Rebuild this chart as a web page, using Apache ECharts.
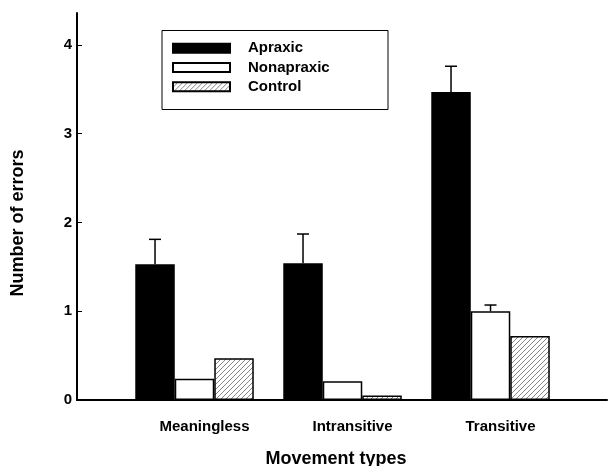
<!DOCTYPE html>
<html>
<head>
<meta charset="utf-8">
<script src="https://cdn.jsdelivr.net/npm/echarts@6/dist/echarts.min.js"></script>
<style>
html,body{margin:0;padding:0;background:#fff;}
#c{width:608px;height:466px;}
</style>
</head>
<body>
<div id="c"></div>
<script>
var categories = ['Meaningless', 'Intransitive', 'Transitive'];
var seriesNames = ['Apraxic', 'Nonapraxic', 'Control'];
var apraxic = [1.53, 1.54, 3.47];
var nonapraxic = [0.24, 0.21, 1.00];
var control = [0.47, 0.05, 0.72];
var apraxicErr = [0.28, 0.33, 0.29];
var nonapraxicErr = [0, 0, 0.07];
var yTicks = [0, 1, 2, 3, 4];
var xTicks = [1, 2, 3];

var FONT = '"Liberation Sans", Arial, sans-serif';
var BAR_W = 39.5;

function hatch() {
  var c = document.createElement('canvas');
  c.width = 5; c.height = 5;
  var g = c.getContext('2d');
  g.fillStyle = '#fff';
  g.fillRect(0, 0, 5, 5);
  g.strokeStyle = '#666';
  g.lineWidth = 0.8;
  g.beginPath();
  g.moveTo(-1, 6); g.lineTo(6, -1);
  g.moveTo(-1, 1); g.lineTo(1, -1);
  g.moveTo(4, 6); g.lineTo(6, 4);
  g.stroke();
  return c;
}

function pairs(vals) {
  return vals.map(function (v, i) { return [xTicks[i], v]; });
}
function errData(vals, errs) {
  return vals.map(function (v, i) { return [xTicks[i], v, errs[i]]; });
}
function errSeries(name, vals, errs, offset) {
  return {
    type: 'custom',
    name: name + ' error',
    z: 1,
    silent: true,
    data: errData(vals, errs),
    renderItem: function (params, api) {
      var e = api.value(2);
      if (!e) return null;
      var base = api.coord([api.value(0), api.value(1)]);
      var top = api.coord([api.value(0), api.value(1) + e]);
      var x = base[0] + offset;
      return {
        type: 'group',
        children: [
          { type: 'line', shape: { x1: x, y1: base[1], x2: x, y2: top[1] }, style: { stroke: '#000', lineWidth: 1.5 } },
          { type: 'line', shape: { x1: x - 6, y1: top[1], x2: x + 6, y2: top[1] }, style: { stroke: '#000', lineWidth: 1.5 } }
        ]
      };
    }
  };
}

var chart = echarts.init(document.getElementById('c'), null, { renderer: 'canvas' });
var option = {
  animation: false,
  backgroundColor: '#fff',
  grid: { left: 77, right: 1, top: 13, bottom: 66, containLabel: false },
  legend: {
    orient: 'vertical',
    left: 172,
    top: 38.5,
    icon: 'rect',
    itemWidth: 57,
    itemHeight: 9,
    itemGap: 0,
    padding: 0,
    data: seriesNames,
    textStyle: { fontFamily: FONT, fontWeight: 'bold', fontSize: 15, color: '#000', lineHeight: 19.3, padding: [0, 0, 0, 13] }
  },
  xAxis: {
    type: 'value',
    min: 0.206,
    max: 3.787,
    splitLine: { show: false },
    axisLine: { show: true, onZero: false, lineStyle: { color: '#000', width: 2 } },
    axisTick: { show: false },
    axisLabel: {
      customValues: xTicks,
      margin: 19,
      padding: [0, 0, 0, 20],
      fontFamily: FONT, fontWeight: 'bold', fontSize: 15, color: '#000',
      formatter: function (v) { return categories[Math.round(v) - 1] || ''; }
    }
  },
  yAxis: {
    type: 'value',
    min: 0,
    max: 4.36,
    interval: 1,
    splitLine: { show: false },
    axisLine: { show: true, lineStyle: { color: '#000', width: 2 } },
    axisTick: { show: true, inside: true, length: 5, customValues: yTicks, lineStyle: { color: '#000', width: 1 } },
    axisLabel: {
      customValues: yTicks,
      margin: 5,
      fontFamily: FONT, fontWeight: 'bold', fontSize: 15, color: '#000'
    }
  },
  graphic: [
    { type: 'rect', shape: { x: 162, y: 30.5, width: 226, height: 79 }, style: { fill: 'none', stroke: '#000', lineWidth: 1 }, z: 10 },
    { type: 'text', x: 336, y: 459, style: { text: 'Movement types', fontFamily: FONT, fontWeight: 'bold', fontSize: 18, fill: '#000', align: 'center', verticalAlign: 'middle' } },
    { type: 'text', x: 18.5, y: 223, rotation: Math.PI / 2, style: { text: 'Number of errors', fontFamily: FONT, fontWeight: 'bold', fontSize: 18, fill: '#000', align: 'center', verticalAlign: 'middle' } }
  ],
  series: [
    { type: 'bar', name: seriesNames[0], data: pairs(apraxic), barWidth: BAR_W, barGap: '0%', z: 2,
      itemStyle: { color: '#000', borderColor: '#000', borderWidth: 1.5 } },
    { type: 'bar', name: seriesNames[1], data: pairs(nonapraxic), barWidth: BAR_W, barGap: '0%', z: 2,
      itemStyle: { color: '#fff', borderColor: '#000', borderWidth: 1.5 } },
    { type: 'bar', name: seriesNames[2], data: pairs(control), barWidth: BAR_W, barGap: '0%', z: 2,
      itemStyle: { color: { image: hatch(), repeat: 'repeat' }, borderColor: '#000', borderWidth: 1.5 } },
    errSeries(seriesNames[0], apraxic, apraxicErr, -BAR_W),
    errSeries(seriesNames[1], nonapraxic, nonapraxicErr, 0)
  ]
};
chart.setOption(option);
</script>
</body>
</html>
